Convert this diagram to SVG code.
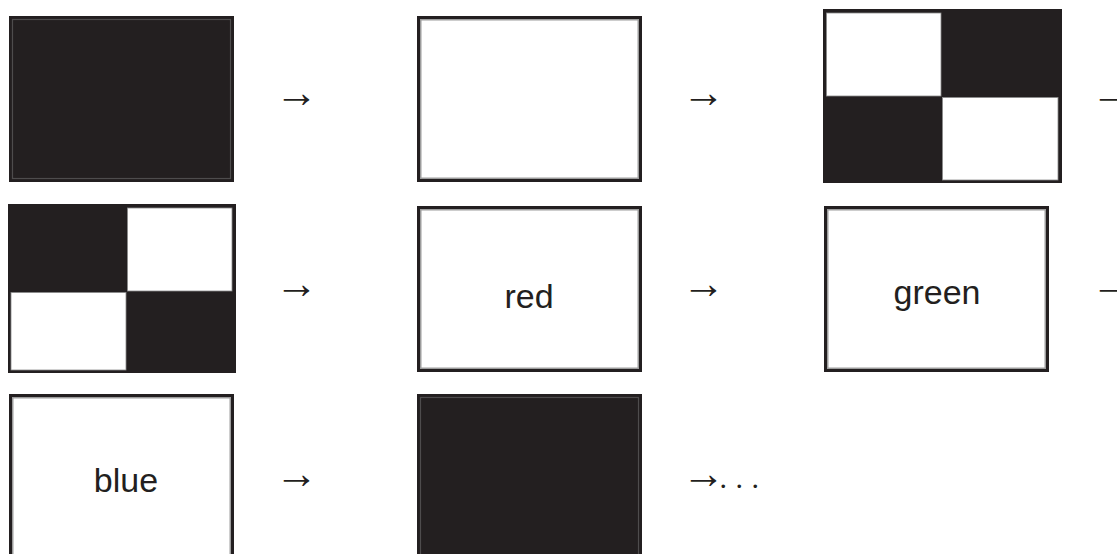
<svg xmlns="http://www.w3.org/2000/svg" width="1117" height="554" viewBox="0 0 1117 554">
<style>
.frame{fill:#231f20}
.white{fill:#ffffff;stroke:#9c9c9c;stroke-width:1.5}
.cell{fill:#ffffff;stroke:#8a8a8a;stroke-width:0.8}
.glow{fill:none;stroke:#4e4c4d;stroke-width:1.2}
.lbl{font-family:"Liberation Sans",Arial,sans-serif;font-size:34px;fill:#231f20;text-anchor:middle}
.arr{font-family:"Liberation Serif","DejaVu Serif",serif;font-size:43px;fill:#231f20}
.dots{font-size:30px}
</style>
<rect width="1117" height="554" fill="#ffffff"/>
<g id="n1"><rect class="frame" x="9" y="16" width="225" height="166"/><rect class="glow" x="12.5" y="19.5" width="218" height="159"/></g>
<g id="n2"><rect class="frame" x="417" y="16" width="225" height="166"/><rect class="white" x="420.75" y="19.75" width="217.5" height="158.5"/></g>
<g id="n3"><rect class="frame" x="823" y="9" width="239" height="174"/><rect class="cell" x="826.5" y="13" width="114.5" height="83"/><rect class="cell" x="942.5" y="97.5" width="115.5" height="82.5"/></g>
<g id="n4"><rect class="frame" x="8" y="204" width="228" height="169"/><rect class="cell" x="127.5" y="208" width="104.5" height="83"/><rect class="cell" x="11" y="292.5" width="115" height="77.5"/></g>
<g id="n5"><rect class="frame" x="417" y="206" width="225" height="166"/><rect class="white" x="420.75" y="209.75" width="217.5" height="158.5"/><text class="lbl" x="529" y="308">red</text></g>
<g id="n6"><rect class="frame" x="824" y="206" width="225" height="166"/><rect class="white" x="827.75" y="209.75" width="217.5" height="158.5"/><text class="lbl" x="937" y="304">green</text></g>
<g id="n7"><rect class="frame" x="9" y="394" width="225" height="170"/><rect class="white" x="12.75" y="397.75" width="217.5" height="170"/><text class="lbl" x="126" y="492">blue</text></g>
<g id="n8"><rect class="frame" x="417" y="394" width="225" height="170"/><rect class="glow" x="420.5" y="397.5" width="218" height="170"/></g>
<g id="connectors">
<text class="arr" x="275" y="106.5">→</text>
<text class="arr" x="682" y="106.5">→</text>
<text class="arr" x="1091" y="106.5">→</text>
<text class="arr" x="275" y="297.5">→</text>
<text class="arr" x="682" y="297.5">→</text>
<text class="arr" x="1091" y="297.5">→</text>
<text class="arr" x="275" y="487.5">→</text>
<text class="arr" x="682" y="487.5">→<tspan class="dots" dx="-5.5 8.5 8.5" dy="0.5">...</tspan></text>
</g>
</svg>
